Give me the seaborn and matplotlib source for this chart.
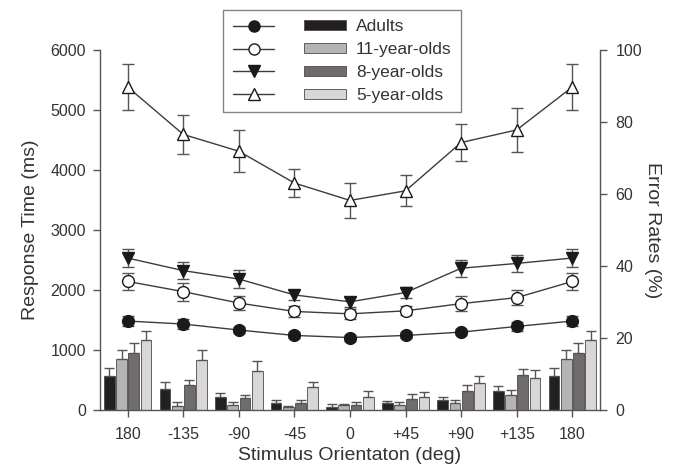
import numpy as np
import pandas as pd
import matplotlib
matplotlib.use("Agg")
import matplotlib.pyplot as plt
import seaborn as sns
from matplotlib.lines import Line2D
from matplotlib.patches import Patch

sns.set_style("ticks")
plt.rcParams['font.family'] = ['Liberation Sans', 'DejaVu Sans']

# --- data ---
ORIENT_LABELS = ['180', '-135', '-90', '-45', '0', '+45', '+90', '+135', '180']
GROUPS = ['Adults', '11-year-olds', '8-year-olds', '5-year-olds']

# response time (ms)
rt_adults = [1480, 1430, 1330, 1240, 1205, 1240, 1295, 1390, 1480]
rt_11 = [2140, 1970, 1780, 1640, 1600, 1650, 1770, 1870, 2140]
rt_8 = [2530, 2320, 2180, 1915, 1800, 1955, 2360, 2440, 2530]
rt_5 = [5380, 4590, 4310, 3780, 3490, 3650, 4455, 4665, 5380]

rt_adults_err = [90, 80, 55, 50, 50, 50, 55, 70, 90]
rt_11_err = [145, 150, 110, 95, 80, 75, 125, 120, 145]
rt_8_err = [150, 140, 145, 85, 80, 95, 140, 140, 150]
rt_5_err = [390, 320, 350, 240, 295, 260, 305, 365, 390]

# error rates (%)
er_adults = [9.4, 5.8, 3.5, 1.9, 0.9, 1.8, 2.6, 5.3, 9.4]
er_11 = [14.1, 1.1, 1.3, 0.7, 1.3, 1.3, 1.8, 4.1, 14.1]
er_8 = [15.8, 6.8, 3.2, 1.9, 1.3, 3.0, 5.2, 9.6, 15.8]
er_5 = [19.3, 13.9, 10.8, 6.4, 3.5, 3.7, 7.5, 8.9, 19.3]

er_adults_err = [2.1, 1.9, 1.3, 0.8, 0.8, 0.7, 0.9, 1.4, 2.1]
er_11_err = [2.4, 1.0, 0.9, 0.5, 0.4, 0.9, 0.8, 1.5, 2.4]
er_8_err = [2.9, 1.6, 1.0, 0.8, 0.8, 1.5, 1.6, 1.8, 2.9]
er_5_err = [2.6, 2.6, 2.7, 1.3, 1.6, 1.3, 2.0, 2.3, 2.6]

BAR_COLORS = ['#231f20', '#b6b3b4', '#716a6c', '#d9d6d7']
LINE_COLOR = '#3c3c3c'
ERR_COLOR = '#555555'
TEXT_COLOR = '#333333'

pos = list(range(len(ORIENT_LABELS)))

# 막대용 long-form 테이블
er_vals = [er_adults, er_11, er_8, er_5]
er_errs = [er_adults_err, er_11_err, er_8_err, er_5_err]
df_er = pd.DataFrame({
    'pos': np.tile(pos, 4),
    'group': np.repeat(GROUPS, len(pos)),
    'rate': np.concatenate(er_vals),
})

fig = plt.figure(figsize=(6.75, 4.7), dpi=100)
ax = fig.add_axes([0.148, 0.128, 0.741, 0.766])
ax2 = ax.twinx()

# --- bars: error rates on right axis ---
sns.barplot(data=df_er, x='pos', y='rate', hue='group', order=pos, hue_order=GROUPS,
            palette=BAR_COLORS, errorbar=None, width=0.88, gap=0.12,
            edgecolor='#4a4a4a', linewidth=0.6, ax=ax2, legend=False)

for cont, errs in zip(ax2.containers, er_errs):
    xs = [p.get_x() + p.get_width() / 2 for p in cont.patches]
    ys = [p.get_height() for p in cont.patches]
    ax2.errorbar(xs, ys, yerr=[np.zeros(len(errs)), errs], fmt='none',
                 ecolor=ERR_COLOR, elinewidth=1.0, capsize=3.5, capthick=1.0)

# --- lines: response time on left axis ---
rt_vals = [rt_adults, rt_11, rt_8, rt_5]
rt_errs = [rt_adults_err, rt_11_err, rt_8_err, rt_5_err]
markers = ['o', 'o', 'v', '^']
faces = ['#1a1a1a', 'white', '#1a1a1a', 'white']

for vals, errs, m, fc in zip(rt_vals, rt_errs, markers, faces):
    ax.errorbar(pos, vals, yerr=errs, fmt='none', ecolor=ERR_COLOR,
                elinewidth=1.0, capsize=4.5, capthick=1.0, zorder=2)
    sns.lineplot(x=pos, y=vals, ax=ax, color=LINE_COLOR, linewidth=1.0,
                 marker=m, markersize=8.5, markerfacecolor=fc,
                 markeredgecolor='#1a1a1a', markeredgewidth=1.0, zorder=3)

ax.set_zorder(ax2.get_zorder() + 1)
ax.patch.set_visible(False)

ax.set_xlim(-0.5, len(pos) - 0.5)
ax2.set_xlim(-0.5, len(pos) - 0.5)
ax.set_ylim(0, 6000)
ax2.set_ylim(0, 100)
ax.set_yticks(range(0, 6001, 1000))
ax2.set_yticks(range(0, 101, 20))
ax.set_xticks(pos)
ax.set_xticklabels(ORIENT_LABELS)

ax.set_xlabel('Stimulus Orientaton (deg)', fontsize=14, color=TEXT_COLOR, labelpad=4)
ax.set_ylabel('Response Time (ms)', fontsize=14, color=TEXT_COLOR, labelpad=8)
ax2.set_ylabel('Error Rates (%)', fontsize=14, color=TEXT_COLOR, rotation=270, labelpad=14)
ax2.set_xlabel('')

for a in (ax, ax2):
    a.spines['top'].set_visible(False)
    for s in ('left', 'right', 'bottom'):
        a.spines[s].set_color('#555555')
        a.spines[s].set_linewidth(1.0)
    a.tick_params(colors='#555555', labelcolor=TEXT_COLOR, labelsize=11.5, length=5, width=1.0)
ax.spines['right'].set_visible(False)
ax2.spines['left'].set_visible(False)
ax2.spines['bottom'].set_visible(False)
ax.tick_params(axis='x', pad=7)
ax.tick_params(axis='y', pad=5)
ax2.tick_params(axis='y', pad=6)

# --- legend: markers column + bar patches column ---
line_handles = [Line2D([0], [0], color=LINE_COLOR, linewidth=1.0, marker=m,
                       markersize=8, markerfacecolor=fc, markeredgecolor='#1a1a1a')
                for m, fc in zip(markers, faces)]
bar_handles = [Patch(facecolor=c, edgecolor='#4a4a4a', linewidth=0.6) for c in BAR_COLORS]
leg = fig.legend(line_handles + bar_handles, [''] * 4 + GROUPS, ncol=2,
                 loc='upper center', bbox_to_anchor=(0.507, 0.979), borderaxespad=0,
                 fontsize=12.5, frameon=True, fancybox=False, edgecolor='#666666',
                 handlelength=2.4, handleheight=0.5, columnspacing=1.1,
                 labelspacing=0.45, borderpad=0.55, handletextpad=0.6)
for t in leg.get_texts():
    t.set_color(TEXT_COLOR)
leg.get_frame().set_linewidth(1.0)

fig.savefig('out.png', dpi=100, facecolor='white')
